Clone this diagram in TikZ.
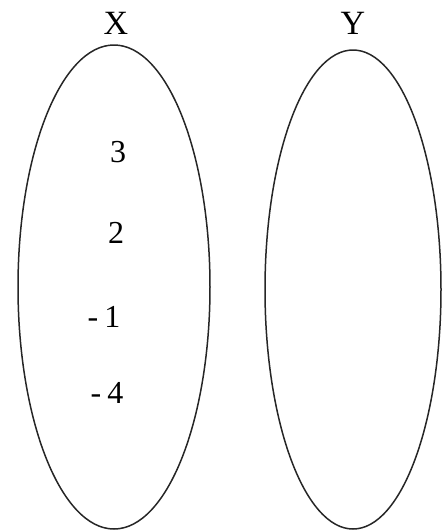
\documentclass[tikz,border=0pt]{standalone}
\usepackage{fontspec}
\setmainfont{Liberation Serif}
\begin{document}
\begin{tikzpicture}[x=1pt,y=-1pt,
  setline/.style={draw=black!85,line width=1.5pt},
  lbl/.style={inner sep=0pt,font=\fontsize{34}{36}\selectfont},
  num/.style={inner sep=0pt,font=\fontsize{32}{34}\selectfont}]
\useasboundingbox (0,0) rectangle (443,531);
\draw[setline] (114,287) ellipse [x radius=96, y radius=242];
\draw[setline] (353,289.5) ellipse [x radius=88, y radius=239.5];
\node[lbl] (X) at (116,23) {X};
\node[lbl] (Y) at (353,23) {Y};
\node[num] (n3) at (118,152) {3};
\node[num] (n2) at (116,233) {2};
\node[num] (n1) at (104,317) {-\hspace{6pt}1};
\node[num] (n4) at (107,393) {-\hspace{6pt}4};
\end{tikzpicture}
\end{document}
